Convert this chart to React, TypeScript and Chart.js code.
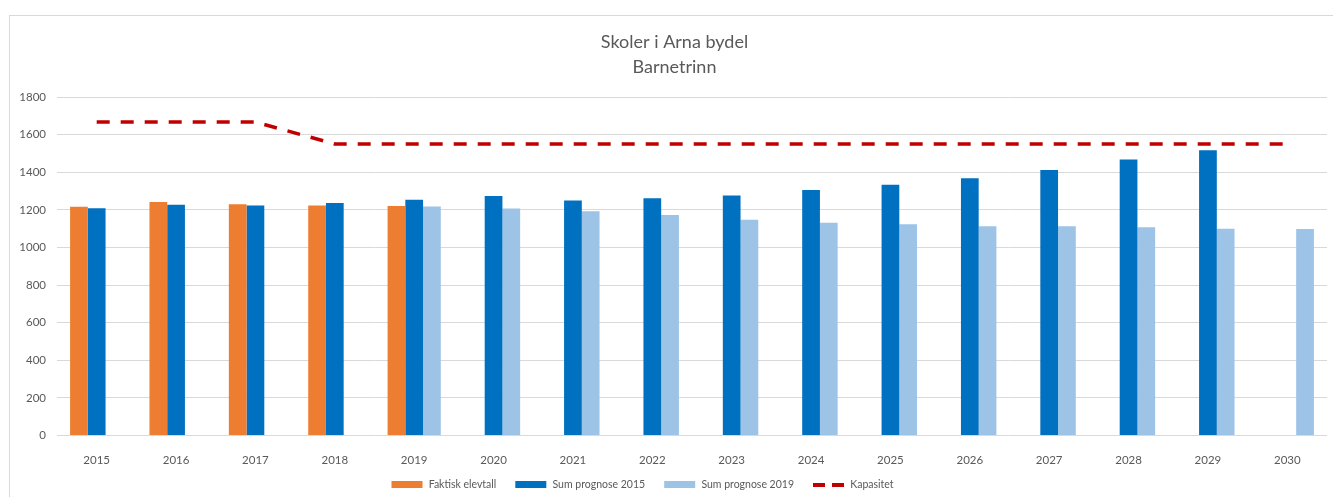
import React, { useEffect, useRef } from "react";
import { Chart, registerables } from "chart.js";

Chart.register(...registerables);

const years = ["2015","2016","2017","2018","2019","2020","2021","2022","2023","2024","2025","2026","2027","2028","2029","2030"];
const faktiskElevtall = [1217, 1241, 1230, 1223, 1220, null, null, null, null, null, null, null, null, null, null, null];
const sumPrognose2015 = [1209, 1227, 1223, 1237, 1253, 1273, 1250, 1262, 1276, 1306, 1333, 1368, 1412, 1467, 1517, null];
const sumPrognose2019 = [null, null, null, null, 1218, 1207, 1193, 1173, 1147, 1131, 1124, 1113, 1113, 1108, 1099, 1098];
const kapasitet = [1667, 1667, 1667, 1550, 1550, 1550, 1550, 1550, 1550, 1550, 1550, 1550, 1550, 1550, 1550, 1550];
const titleLines = ["Skoler i Arna bydel", "Barnetrinn"];
const seriesNames = ["Faktisk elevtall", "Sum prognose 2015", "Sum prognose 2019", "Kapasitet"];

const ORANGE = "#ED7D31";
const BLUE = "#0070C0";
const LIGHT = "#9DC3E6";
const RED = "#C00000";
const TEXT = "#595959";
const GRID = "#D9D9D9";
const FONT = "Lato, 'Open Sans', sans-serif";

function barSwatch(color: string) {
  const c = document.createElement("canvas");
  c.width = 44;
  c.height = 7;
  const ctx = c.getContext("2d")!;
  ctx.fillStyle = color;
  ctx.fillRect(12, 0, 31, 7);
  return c;
}

function dashSwatch(color: string) {
  const c = document.createElement("canvas");
  c.width = 44;
  c.height = 4;
  const ctx = c.getContext("2d")!;
  ctx.fillStyle = color;
  ctx.fillRect(12, 0, 12, 4);
  ctx.fillRect(31, 0, 12, 4);
  return c;
}

const boxShift = {
  id: "boxShift",
  afterLayout(chart: any) {
    if (chart.legend) chart.legend.right -= 54;
    if (chart.titleBlock) chart.titleBlock.left += 22;
  },
};

export default function App() {
  const ref = useRef<HTMLCanvasElement | null>(null);

  useEffect(() => {
    if (!ref.current) return;
    const swatches = [barSwatch(ORANGE), barSwatch(BLUE), barSwatch(LIGHT), dashSwatch(RED)];
    const chart = new Chart(ref.current, {
      type: "bar",
      data: {
        labels: years,
        datasets: [
          { label: seriesNames[0], data: faktiskElevtall, backgroundColor: ORANGE, borderWidth: 0, categoryPercentage: 0.67, barPercentage: 1 },
          { label: seriesNames[1], data: sumPrognose2015, backgroundColor: BLUE, borderWidth: 0, categoryPercentage: 0.67, barPercentage: 1 },
          { label: seriesNames[2], data: sumPrognose2019, backgroundColor: LIGHT, borderWidth: 0, categoryPercentage: 0.67, barPercentage: 1 },
          {
            type: "line",
            label: seriesNames[3],
            data: kapasitet,
            borderColor: RED,
            backgroundColor: RED,
            borderWidth: 3.5,
            borderDash: [13, 11],
            borderCapStyle: "butt",
            pointRadius: 0,
            tension: 0,
            fill: false,
          } as any,
        ],
      },
      options: {
        responsive: false,
        animation: false,
        devicePixelRatio: 1,
        layout: { padding: { left: 0, right: 6, top: 0, bottom: 0 } },
        plugins: {
          tooltip: { enabled: false },
          title: {
            display: true,
            text: titleLines,
            color: TEXT,
            font: { family: FONT, size: 18, weight: "normal", lineHeight: 1.4 },
            padding: { top: 29.4, bottom: 17.2 },
          },
          legend: {
            position: "bottom",
            labels: {
              color: TEXT,
              font: { family: FONT, size: 10.5 },
              usePointStyle: true,
              pointStyleWidth: 44,
              padding: 7,
              generateLabels: (ch: any) =>
                ch.data.datasets.map((ds: any, i: number) => ({
                  text: ds.label,
                  fillStyle: "transparent",
                  strokeStyle: "transparent",
                  lineWidth: 0,
                  pointStyle: swatches[i],
                  fontColor: TEXT,
                  hidden: false,
                  datasetIndex: i,
                })),
            },
          },
        },
        scales: {
          x: {
            grid: { display: false },
            border: { display: false },
            ticks: { color: TEXT, font: { family: FONT, size: 11.5 }, padding: 10, maxRotation: 0 },
            afterFit: (s: any) => { s.height = 37; },
          },
          y: {
            min: 0,
            max: 1800,
            grid: { color: GRID, lineWidth: 1, drawTicks: false },
            border: { display: false },
            ticks: {
              stepSize: 200,
              color: TEXT,
              font: { family: FONT, size: 11.5 },
              padding: 11,
              callback: (v: any) => String(v),
            },
            afterFit: (s: any) => { s.width = 57; },
          },
        },
      },
      plugins: [boxShift],
    });
    return () => chart.destroy();
  }, []);

  return (
    <div style={{ position: "fixed", left: 0, top: 0, width: 1333, height: 497, overflow: "hidden", background: "#fff" }}>
      <div style={{ position: "absolute", left: 9, top: 15, width: 1400, height: 600, border: `1px solid ${GRID}` }} />
      <canvas ref={ref} width={1333} height={500} style={{ position: "absolute", left: 0, top: 0, width: 1333, height: 500 }} />
    </div>
  );
}
